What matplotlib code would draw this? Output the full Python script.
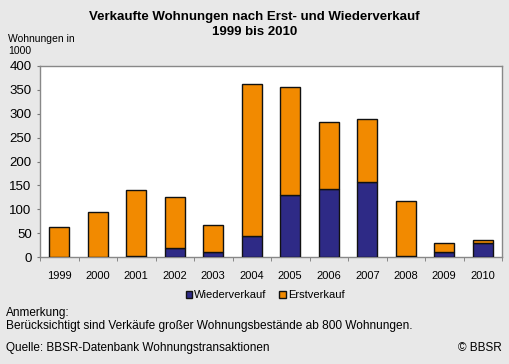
import matplotlib.pyplot as plt
import matplotlib.patches as mpatch
import numpy as np

plt.rcParams['font.family'] = ['Liberation Sans', 'DejaVu Sans']

years = ["1999", "2000", "2001", "2002", "2003", "2004",
         "2005", "2006", "2007", "2008", "2009", "2010"]
totals = [63, 95, 140, 126, 66, 362, 357, 282, 288, 117, 29, 35]
wieder = [0, 0, 2, 18, 10, 45, 130, 142, 158, 2, 11, 29]
erst = [t - w for t, w in zip(totals, wieder)]

c_wieder = "#2e2a86"
c_erst = "#f28a00"
bg = "#e8e8e8"

W, H = 509, 364
fig = plt.figure(figsize=(W / 100, H / 100), dpi=100, facecolor=bg)
ax = fig.add_axes([40 / W, 1 - 257 / H, 462 / W, 191 / H])
ax.set_facecolor("white")

x = np.arange(len(years))
ax.bar(x, wieder, width=0.52, color=c_wieder, edgecolor="#111111", lw=1.0, zorder=3)
ax.bar(x, erst, bottom=wieder, width=0.52, color=c_erst, edgecolor="#111111", lw=1.0, zorder=3)

ax.set_xlim(-0.5, len(years) - 0.5)
ax.set_ylim(0, 400)
ax.set_yticks(range(0, 401, 50))
ax.set_xticks(x, years)
ax.set_xticks(np.arange(-0.5, len(years), 1), minor=True)
ax.tick_params(axis="x", which="major", length=0, pad=10, labelsize=8)
ax.tick_params(axis="x", which="minor", length=3, color="#777777")
ax.tick_params(axis="y", length=2, color="#777777", labelsize=9.5, pad=4)
for s in ax.spines.values():
    s.set_color("#888888")
    s.set_linewidth(1.0)

fig.text(0.5, 1 - 17 / H, "Verkaufte Wohnungen nach Erst- und Wiederverkauf",
         ha="center", va="center", fontsize=9.5, fontweight="bold")
fig.text(0.5, 1 - 32 / H, "1999 bis 2010", ha="center", va="center",
         fontsize=9.5, fontweight="bold")
fig.text(8 / W, 1 - 39 / H, "Wohnungen in", ha="left", va="center", fontsize=7.5)
fig.text(8 / W, 1 - 51 / H, "1000", ha="left", va="center", fontsize=7.5)

handles = [mpatch.Patch(facecolor=c_wieder, edgecolor="#111111", label="Wiederverkauf"),
           mpatch.Patch(facecolor=c_erst, edgecolor="#111111", label="Erstverkauf")]
fig.legend(handles=handles, loc="center", bbox_to_anchor=(265 / W, 1 - 295 / H),
           ncols=2, frameon=False, fontsize=8, handlelength=0.6, handleheight=0.6,
           handletextpad=0.2, columnspacing=1.1)

fig.text(6 / W, 1 - 313 / H, "Anmerkung:", ha="left", va="center", fontsize=8.5)
fig.text(6 / W, 1 - 326 / H,
         "Berücksichtigt sind Verkäufe großer Wohnungsbestände ab 800 Wohnungen.",
         ha="left", va="center", fontsize=8.6)
fig.text(6 / W, 1 - 348 / H, "Quelle: BBSR-Datenbank Wohnungstransaktionen",
         ha="left", va="center", fontsize=8.5)
fig.text(502 / W, 1 - 348 / H, "© BBSR", ha="right", va="center", fontsize=8.5)

fig.savefig("out.png", dpi=100, facecolor=bg)
